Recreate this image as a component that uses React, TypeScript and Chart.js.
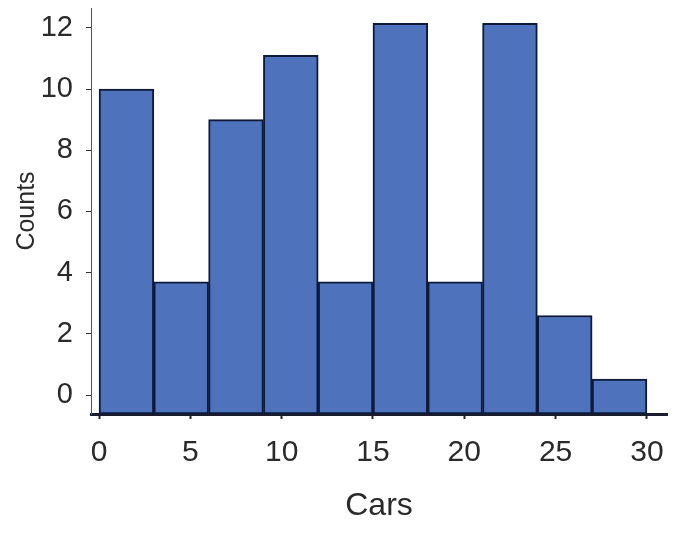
import { useEffect, useRef } from "react";
import { Chart, registerables } from "chart.js";

Chart.register(...registerables);

// histogram bins of width 3 (bin centres) and their counts
const binCenters = [1.5, 4.5, 7.5, 10.5, 13.5, 16.5, 19.5, 22.5, 25.5, 28.5];
const counts = [10, 3.7, 9, 11.1, 3.7, 12.15, 3.7, 12.15, 2.6, 0.52];
const yFloor = -0.62;

const textColor = "#2a2a2a";

export default function App() {
  const canvasRef = useRef<HTMLCanvasElement | null>(null);
  const chartRef = useRef<Chart | null>(null);

  useEffect(() => {
    if (!canvasRef.current) return;
    if (chartRef.current) chartRef.current.destroy();

    const ctx = canvasRef.current.getContext("2d");
    if (!ctx) return;

    chartRef.current = new Chart(ctx, {
      type: "bar",
      data: {
        datasets: [
          {
            data: binCenters.map((x, i) => ({ x, y: counts[i] })),
            backgroundColor: "#4f72bd",
            borderColor: "#0e1a3a",
            borderWidth: 2,
            borderSkipped: false,
            barPercentage: 1,
            categoryPercentage: 1,
            base: yFloor,
          } as any,
        ],
      },
      options: {
        animation: false,
        responsive: false,
        maintainAspectRatio: false,
        layout: { padding: { top: 8, right: 33, left: 0, bottom: 0 } },
        plugins: { legend: { display: false }, tooltip: { enabled: false } },
        scales: {
          x: {
            type: "linear",
            offset: false,
            min: -0.44,
            max: 31.1,
            afterFit: (scale: any) => {
              scale.height = 128;
              scale.paddingLeft = 0;
              scale.paddingRight = 0;
            },
            grid: {
              offset: false,
              drawOnChartArea: false,
              drawTicks: true,
              tickLength: 5,
              tickColor: "#222",
              tickWidth: 2,
            },
            border: { display: true, color: "#1a1d2e", width: 3 },
            ticks: {
              stepSize: 5,
              includeBounds: false,
              padding: 16,
              color: textColor,
              font: { family: "'Liberation Sans', Arial, sans-serif", size: 30 },
            },
            title: {
              display: true,
              text: "Cars",
              color: textColor,
              font: { family: "'Liberation Sans', Arial, sans-serif", size: 32 },
              padding: { top: 0, bottom: 17 },
            },
          },
          y: {
            min: yFloor,
            max: 12.65,
            afterFit: (scale: any) => {
              scale.width = 91;
              scale.paddingTop = 0;
              scale.paddingBottom = 0;
            },
            grid: {
              drawOnChartArea: false,
              drawTicks: true,
              tickLength: 5,
              tickColor: "#333",
            },
            border: { display: true, color: "#555", width: 1 },
            ticks: {
              stepSize: 2,
              includeBounds: false,
              padding: 13,
              color: textColor,
              font: { family: "'Liberation Sans', Arial, sans-serif", size: 29 },
            },
            title: {
              display: true,
              text: "Counts",
              color: textColor,
              font: { family: "'Liberation Sans', Arial, sans-serif", size: 25 },
              padding: { top: 12, bottom: 0 },
            },
          },
        },
      },
    });

    return () => {
      if (chartRef.current) {
        chartRef.current.destroy();
        chartRef.current = null;
      }
    };
  }, []);

  return (
    <div
      style={{
        position: "absolute",
        left: 0,
        top: 0,
        width: 700,
        height: 542,
        background: "#fff",
      }}
    >
      <canvas ref={canvasRef} width={700} height={542} style={{ width: 700, height: 542 }} />
    </div>
  );
}
